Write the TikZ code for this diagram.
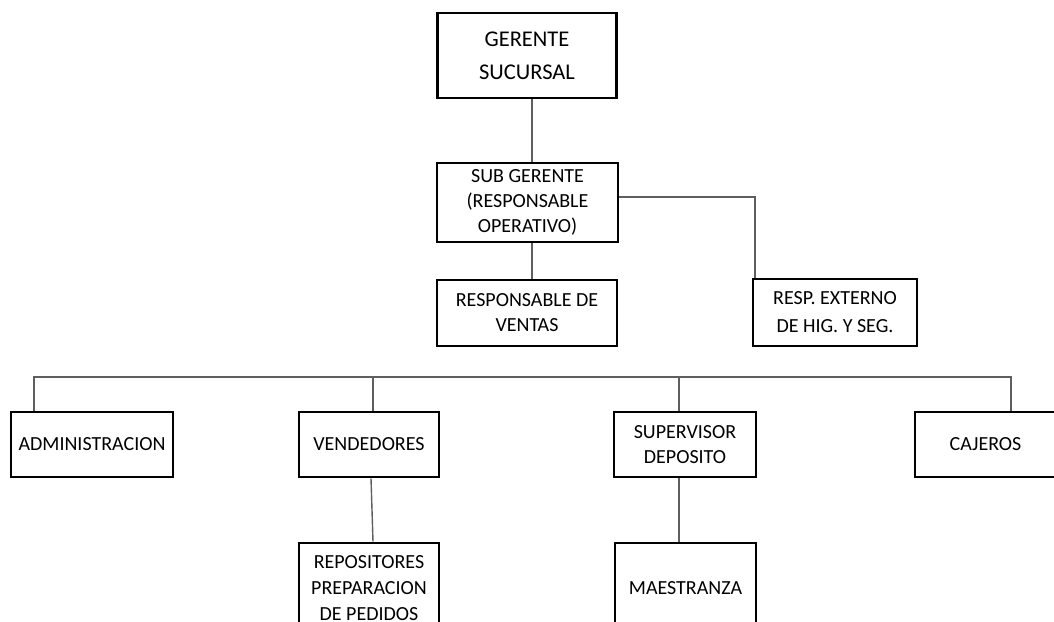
\documentclass[tikz,border=0pt]{standalone}
\usepackage{fontspec}
\setmainfont{Carlito}
\definecolor{connline}{RGB}{95,95,95}
\begin{document}
\begin{tikzpicture}[x=1pt,y=-1pt,
  orgbox/.style={draw=black, line width=2.8pt, fill=white, inner sep=0pt,
    align=center, font=\fontsize{20}{25}\selectfont},
  conn/.style={draw=connline, line width=1.4pt}]
\useasboundingbox (0,0) rectangle (1054,621);
\clip (0,0) rectangle (1054,621);

% top of the chart
\node[orgbox, minimum width=179pt, minimum height=85pt,
  font=\fontsize{22.5}{33}\selectfont] (ger) at (527,55.5) {GERENTE\\SUCURSAL};
\node[orgbox, minimum width=181pt, minimum height=79pt] (sub) at (527.5,202.5)
  {SUB GERENTE\\(RESPONSABLE\\OPERATIVO)};
\node[orgbox, minimum width=180pt, minimum height=66pt] (ven) at (527,313)
  {RESPONSABLE DE\\VENTAS};
\node[orgbox, minimum width=164pt, minimum height=67pt,
  font=\fontsize{20}{28}\selectfont] (ext) at (835,312.5)
  {RESP. EXTERNO\\DE HIG. Y SEG.};

% second row
\node[orgbox, minimum width=162pt, minimum height=65pt] (adm) at (92,444.5) {ADMINISTRACION};
\node[orgbox, minimum width=140pt, minimum height=65pt] (vnd) at (369,444.5) {VENDEDORES};
\node[orgbox, minimum width=142pt, minimum height=65pt] (sup) at (685,444.5) {SUPERVISOR\\DEPOSITO};
\node[orgbox, minimum width=141pt, minimum height=65pt] (caj) at (985.5,444.5) {CAJEROS};

% third row
\node[orgbox, minimum width=140pt, minimum height=90pt, font=\fontsize{20}{26}\selectfont]
  (rep) at (369,588) {REPOSITORES\\PREPARACION\\DE PEDIDOS};
\node[orgbox, minimum width=141pt, minimum height=90pt] (mae) at (685.5,588) {MAESTRANZA};

% connectors
\draw[conn] ([xshift=5pt]ger.south) -- ([xshift=5pt]ger.south |- sub.north);
\draw[conn] ([yshift=5.5pt]sub.east) -| ([xshift=-80pt]ext.north);
\draw[conn] ([xshift=4.5pt]sub.south) -- ([xshift=4.5pt]sub.south |- ven.north);

\coordinate (busL) at (34,377);
\coordinate (busV) at (373,377);
\coordinate (busS) at (679,377);
\coordinate (busR) at (1011,377);
\draw[conn] (busL |- adm.north) -- (busL) -- (busR) -- (busR |- caj.north);
\draw[conn] (busV) -- (busV |- vnd.north);
\draw[conn] (busS) -- (busS |- sup.north);

\draw[conn] ([xshift=2pt]vnd.south) -- ([xshift=4pt]rep.north);
\draw[conn] ([xshift=-6pt]sup.south) -- ([xshift=-6.5pt]mae.north);
\end{tikzpicture}
\end{document}
